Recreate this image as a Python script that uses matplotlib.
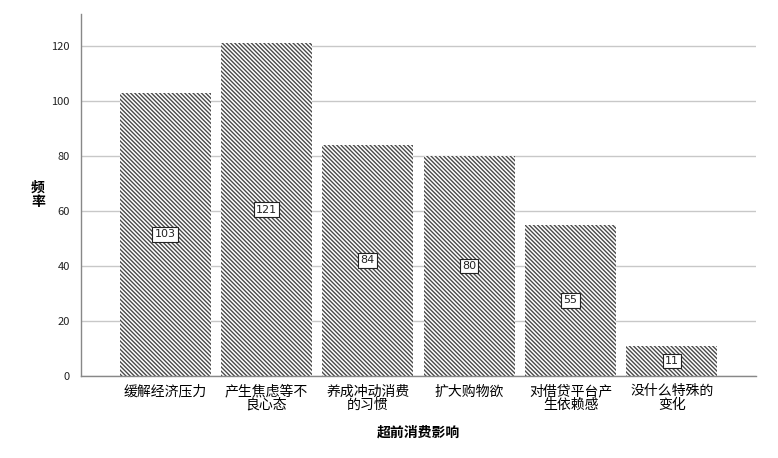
import matplotlib
matplotlib.use("Agg")
import matplotlib.pyplot as plt

plt.rcParams['font.family'] = ['Noto Sans CJK SC', 'DejaVu Sans']
plt.rcParams['hatch.linewidth'] = 1.0

categories = ["缓解经济压力", "产生焦虑等不\n良心态", "养成冲动消费\n的习惯", "扩大购物欲", "对借贷平台产\n生依赖感", "没什么特殊的\n变化"]
values = [103, 121, 84, 80, 55, 11]
yticks = [0, 20, 40, 60, 80, 100, 120]

fig = plt.figure(figsize=(7.78, 4.58), dpi=100)
ax = fig.add_axes([81/778, 1-376/458, (756-81)/778, (376-14)/458])

x = list(range(len(categories)))
bars = ax.bar(x, values, width=0.9, color='white', edgecolor='#4a4a4a',
              hatch='\\\\\\\\\\\\\\\\', linewidth=0, zorder=2)

for xi, v in zip(x, values):
    ax.text(xi, v/2, str(v), ha='center', va='center', fontsize=8, color='#222222',
            family='DejaVu Sans', zorder=4,
            bbox=dict(boxstyle='square,pad=0.2', facecolor='white', edgecolor='#222222', linewidth=0.8))

ax.set_xlim(-0.83, 5.83)
ax.set_ylim(0, 131.6)
ax.set_yticks(yticks)
ax.set_xticks(x)
ax.set_xticklabels(categories, fontsize=10, linespacing=0.95)
ax.tick_params(axis='y', labelsize=8, length=0, pad=8, colors='#222222')
ax.tick_params(axis='x', length=0, pad=6)
ax.yaxis.grid(True, color='#c8c8c8', linewidth=1)
ax.set_axisbelow(True)
for s in ['top', 'right']:
    ax.spines[s].set_visible(False)
for s in ['left', 'bottom']:
    ax.spines[s].set_color('#888888')
    ax.spines[s].set_linewidth(1)

ax.set_xlabel("超前消费影响", fontsize=10, fontweight='bold', labelpad=10)
ax.set_ylabel("频\n率", fontsize=10, fontweight='bold', rotation=0, va='center', ha='center',
              linespacing=1.05)
ax.yaxis.set_label_coords((38-81)/675, (376-195)/362)

fig.savefig("out.png", dpi=100)
